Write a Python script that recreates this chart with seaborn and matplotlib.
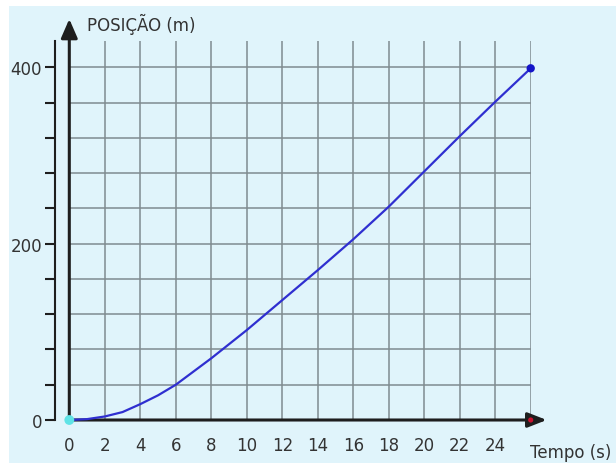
import matplotlib
matplotlib.use("Agg")
import matplotlib.pyplot as plt
from matplotlib.patches import Rectangle
import seaborn as sns
import pandas as pd

# ---- data ----
tempo = [0, 1, 2, 3, 4, 5, 6, 7, 8, 9, 10, 12, 14, 16, 18, 20, 22, 24, 26]
posicao = [0, 1, 4, 9, 18, 28, 40, 55, 70, 86, 102, 136, 170, 205, 242, 282, 322, 361, 399]
x_tick_values = list(range(0, 27, 2))
x_tick_labels = [str(v) for v in range(0, 25, 2)] + [""]
y_major_ticks = [0, 200, 400]
y_minor_ticks = list(range(0, 401, 40))
y_title = "POSIÇÃO (m)"
x_title = "Tempo (s)"

df = pd.DataFrame({"tempo": tempo, "posicao": posicao})

sns.set_style("white")
plt.rcParams["font.family"] = ["DejaVu Sans"]

BG = "#e0f4fb"
GRID = "#7f8b90"
TXT = "#333333"
AX = "#1e1e1e"

fig = plt.figure(figsize=(6.16, 4.64), dpi=100)
fig.patch.set_facecolor("white")
fig.patches.append(Rectangle((9 / 616, 0), 1, (464 - 7) / 464, transform=fig.transFigure,
                             facecolor=BG, edgecolor="none", zorder=-10))

W, H = 616, 464
left_px, right_px = 69.3, 530.7
bottom_px, top_px = 421, 42
ax = fig.add_axes([left_px / W, (H - bottom_px) / H,
                   (right_px - left_px) / W, (bottom_px - top_px) / H])
ax.set_facecolor("none")
ax.set_zorder(1)

# curve and points
sns.lineplot(data=df, x="tempo", y="posicao", ax=ax, color="#2f2fd0", lw=1.6,
             zorder=5, clip_on=False)
sns.scatterplot(x=[tempo[-1]], y=[posicao[-1]], ax=ax, color="#1414c8", s=36,
                edgecolor="none", zorder=6, clip_on=False)
sns.scatterplot(x=[tempo[0]], y=[posicao[0]], ax=ax, color="#5fe3e6", s=50,
                edgecolor="none", zorder=6, clip_on=False)
sns.scatterplot(x=[tempo[-1]], y=[0], ax=ax, color="#c8102e", s=14,
                edgecolor="none", zorder=6, clip_on=False)

ax.set_xlim(0, 26)
ax.set_ylim(0, 430)
ax.set_xlabel("")
ax.set_ylabel("")

# grid
ax.set_xticks(x_tick_values)
ax.set_xticklabels(x_tick_labels)
ax.set_yticks(y_major_ticks)
ax.set_yticks([v for v in y_minor_ticks if v not in y_major_ticks], minor=True)
ax.grid(True, which="both", color=GRID, lw=1.1, zorder=1)
ax.set_axisbelow(True)

for s in ["top", "right", "bottom"]:
    ax.spines[s].set_visible(False)
ax.spines["left"].set_position(("outward", 10))
ax.spines["left"].set_color(AX)
ax.spines["left"].set_linewidth(1.5)

ax.tick_params(axis="x", length=0, pad=11.5, labelsize=12, labelcolor=TXT)
ax.tick_params(axis="y", which="both", direction="out", length=7.5, width=1.5,
               color=AX, pad=2, labelsize=12, labelcolor=TXT, left=True)

# arrow axes
ax.annotate("", xy=(1 + 16 / (right_px - left_px), 0), xytext=(0, 0),
            xycoords="axes fraction", textcoords="axes fraction",
            arrowprops=dict(arrowstyle="-|>,head_length=11.5,head_width=4.5",
                            mutation_scale=1, lw=2.2, color=AX,
                            shrinkA=0, shrinkB=0), annotation_clip=False, zorder=4)
ax.annotate("", xy=(0, 1 + 22 / (bottom_px - top_px)), xytext=(0, 0),
            xycoords="axes fraction", textcoords="axes fraction",
            arrowprops=dict(arrowstyle="-|>,head_length=11.5,head_width=5",
                            mutation_scale=1, lw=2.2, color=AX,
                            shrinkA=0, shrinkB=0), annotation_clip=False, zorder=4)

fig.text(87 / W, 1 - 31 / H, y_title, fontsize=12, color=TXT, ha="left", va="baseline")
fig.text(530 / W, 1 - 458 / H, x_title, fontsize=12, color=TXT, ha="left", va="baseline")

fig.savefig("out.png", dpi=100, facecolor=fig.get_facecolor())
